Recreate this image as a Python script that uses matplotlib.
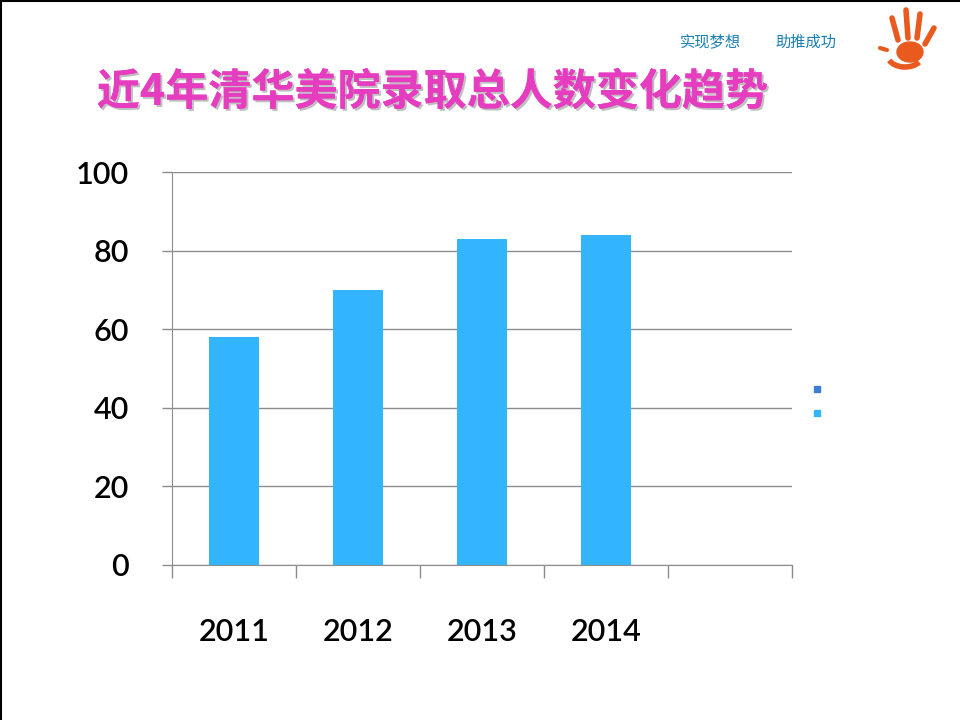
import matplotlib
matplotlib.use("Agg")
import matplotlib.pyplot as plt
import matplotlib.patheffects as pe
from matplotlib.lines import Line2D
from matplotlib.patches import Rectangle, Ellipse, Arc

years = ["2011", "2012", "2013", "2014"]
values = [58, 70, 83, 84]
yticks = [0, 20, 40, 60, 80, 100]
title = "近4年清华美院录取总人数变化趋势"
header_left = "实现梦想"
header_right = "助推成功"

plt.rcParams['font.family'] = ['Noto Sans CJK SC', 'DejaVu Sans']

W, H = 960, 720
fig = plt.figure(figsize=(9.6, 7.2), dpi=100)
fig.patch.set_facecolor("white")

def fx(x): return x / W
def fy(y): return 1 - y / H

ax = fig.add_axes([fx(172), fy(565), (792 - 172) / W, (565 - 172) / H])
n_slots = 5
ax.set_xlim(-0.5, n_slots - 0.5)
ax.set_ylim(0, 100)
ax.bar(range(len(years)), values, width=0.4, color="#33b5fd", zorder=3)

grid_c = "#8c8c8c"
ax.set_yticks(yticks)
ax.set_yticklabels([str(t) for t in yticks], fontsize=22, family="Lato", fontweight="semibold")
ax.tick_params(axis="y", length=7, color=grid_c, pad=24, width=1)
ax.yaxis.grid(True, color=grid_c, linewidth=1, zorder=0)

ax.set_xticks(range(len(years)))
ax.set_xticklabels(years, fontsize=22, family="Lato", fontweight="semibold")
ax.tick_params(axis="x", which="major", length=0, pad=38)
ax.set_xticks([i - 0.5 for i in range(n_slots + 1)], minor=True)
ax.tick_params(axis="x", which="minor", length=9, color=grid_c, width=1)

for s in ["top", "right"]:
    ax.spines[s].set_visible(False)
ax.spines["left"].set_color(grid_c)
ax.spines["bottom"].set_color(grid_c)

# title
fig.text(fx(432), fy(92), title, ha="center", va="center", fontsize=31,
         fontweight="bold", color="#e63cc0",
         path_effects=[pe.withSimplePatchShadow(offset=(1.5, -1.5), shadow_rgbFace="#b0b0b0", alpha=0.8), pe.Normal()])

# header
fig.text(fx(710), fy(42), header_left, ha="center", va="center", fontsize=11, color="#1a7fb5", fontweight="medium")
fig.text(fx(806), fy(42), header_right, ha="center", va="center", fontsize=11, color="#1a7fb5", fontweight="medium")

# legend markers
fig.patches.append(Rectangle((fx(814), fy(392)), 6 / W, 6 / H, transform=fig.transFigure,
                             color="#3a7fd0", figure=fig))
fig.patches.append(Rectangle((fx(814), fy(416)), 6 / W, 6 / H, transform=fig.transFigure,
                             color="#35b4f5", figure=fig))

# hand logo (decorative)
orange = "#e85a1e"
for (x0, y0, x1, y1) in [(898, 40, 892, 18), (908, 38, 906, 10), (917, 38, 920, 14), (925, 44, 934, 28)]:
    fig.lines.append(Line2D([fx(x0), fx(x1)], [fy(y0), fy(y1)], transform=fig.transFigure,
                            color=orange, linewidth=4, solid_capstyle="round"))
fig.patches.append(Ellipse((fx(910), fy(52)), 26 / W, 20 / H, transform=fig.transFigure,
                           color=orange, figure=fig))
fig.patches.append(Arc((fx(905), fy(56)), 34 / W, 22 / H, theta1=200, theta2=330,
                       transform=fig.transFigure, color=orange, linewidth=4, figure=fig))
fig.lines.append(Line2D([fx(880), fx(887)], [fy(48), fy(50)], transform=fig.transFigure,
                        color=orange, linewidth=3, solid_capstyle="round"))

# page border (top and left)
fig.lines.append(Line2D([0, 1], [fy(1), fy(1)], transform=fig.transFigure, color="black", linewidth=1.5))
fig.lines.append(Line2D([fx(1), fx(1)], [0, 1], transform=fig.transFigure, color="black", linewidth=1.5))

fig.savefig("out.png", dpi=100, facecolor="white")
